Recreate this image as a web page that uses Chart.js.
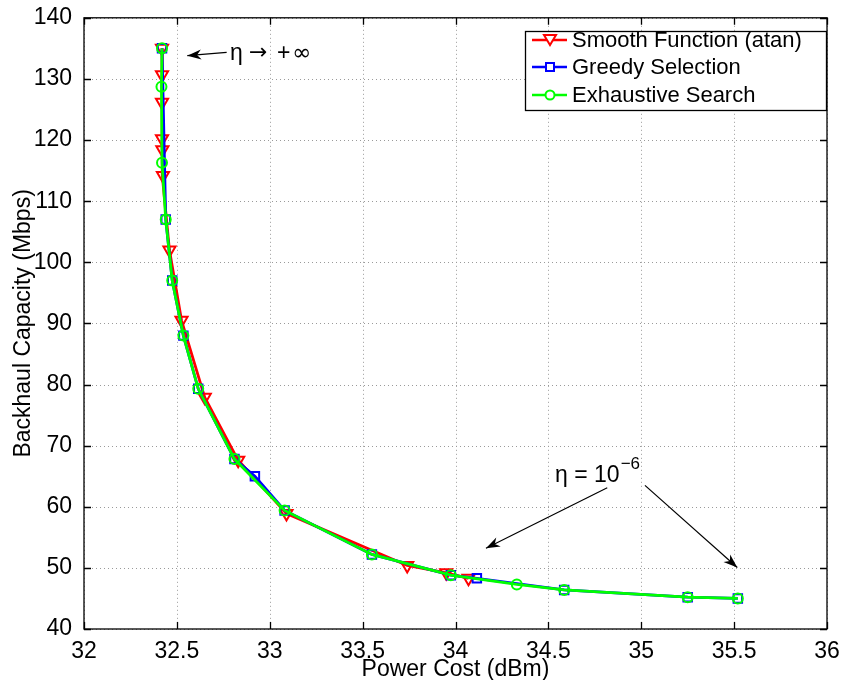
<!DOCTYPE html>
<html>
<head>
<meta charset="utf-8">
<script src="https://cdn.jsdelivr.net/npm/chart.js@4.4.0/dist/chart.umd.min.js"></script>
<style>
  html, body { margin: 0; padding: 0; background: #fff; }
  #wrap { width: 847px; height: 680px; }
</style>
</head>
<body>
<div id="wrap"><canvas id="chart" width="847" height="680"></canvas></div>
<script>
// values
const smoothX = [32.42, 32.42, 32.42, 32.42, 32.422, 32.425, 32.46, 32.525, 32.65, 32.83, 33.09, 33.74, 33.95, 34.07];
const smoothY = [135, 130.7, 126.2, 120.2, 118.4, 114.2, 102, 90.5, 77.9, 67.6, 58.9, 50.4, 49.2, 48.3];

const greedyX = [32.42, 32.44, 32.475, 32.535, 32.615, 32.81, 32.92, 33.08, 33.55, 33.975, 34.115, 34.585, 35.25, 35.52];
const greedyY = [135, 107, 97, 88, 79.3, 67.8, 65, 59.4, 52.2, 48.8, 48.3, 46.4, 45.2, 45.0];

const exhaustX = [32.42, 32.417, 32.42, 32.44, 32.475, 32.535, 32.615, 32.81, 33.08, 33.55, 33.975, 34.33, 34.585, 35.25, 35.52];
const exhaustY = [135, 128.7, 116.3, 107, 97, 88, 79.3, 67.8, 59.4, 52.2, 48.8, 47.3, 46.4, 45.2, 45.0];

const xTicks = [32, 32.5, 33, 33.5, 34, 34.5, 35, 35.5, 36];
const yTicks = [40, 50, 60, 70, 80, 90, 100, 110, 120, 130, 140];

const seriesNames = ["Smooth Function (atan)", "Greedy Selection", "Exhaustive Search"];
const xTitle = "Power Cost (dBm)";
const yTitle = "Backhaul Capacity (Mbps)";

function pts(xs, ys) {
    return xs.map((x, i) => ({ x: x, y: ys[i] }));
}

const FONT = "Liberation Sans, Arial, Helvetica, sans-serif";

// grid, frame, inner ticks, titles, notes and legend, MATLAB style
const matlabBox = {
    id: 'matlabBox',
    beforeDatasetsDraw(chart) {
        const ctx = chart.ctx;
        const a = chart.chartArea;
        const xs = chart.scales.x, ys = chart.scales.y;
        ctx.save();
        ctx.strokeStyle = '#9a9a9a';
        ctx.lineWidth = 1;
        ctx.setLineDash([1, 3]);
        xTicks.forEach(v => {
            const px = Math.round(xs.getPixelForValue(v)) + 0.5;
            ctx.beginPath(); ctx.moveTo(px, a.top); ctx.lineTo(px, a.bottom); ctx.stroke();
        });
        yTicks.forEach(v => {
            const py = Math.round(ys.getPixelForValue(v)) + 0.5;
            ctx.beginPath(); ctx.moveTo(a.left, py); ctx.lineTo(a.right, py); ctx.stroke();
        });
        ctx.restore();
    },
    afterDatasetsDraw(chart) {
        const ctx = chart.ctx;
        const a = chart.chartArea;
        const xs = chart.scales.x, ys = chart.scales.y;
        ctx.save();
        ctx.strokeStyle = '#000';
        ctx.lineWidth = 1.3;
        ctx.setLineDash([]);
        ctx.strokeRect(a.left, a.top, a.right - a.left, a.bottom - a.top);
        const tl = 7;
        xTicks.forEach(v => {
            const px = Math.round(xs.getPixelForValue(v)) + 0.5;
            ctx.beginPath();
            ctx.moveTo(px, a.bottom); ctx.lineTo(px, a.bottom - tl);
            ctx.moveTo(px, a.top); ctx.lineTo(px, a.top + tl);
            ctx.stroke();
        });
        yTicks.forEach(v => {
            const py = Math.round(ys.getPixelForValue(v)) + 0.5;
            ctx.beginPath();
            ctx.moveTo(a.left, py); ctx.lineTo(a.left + tl, py);
            ctx.moveTo(a.right, py); ctx.lineTo(a.right - tl, py);
            ctx.stroke();
        });

        // axis titles
        ctx.fillStyle = '#000';
        ctx.font = '23px ' + FONT;
        ctx.textAlign = 'center';
        ctx.textBaseline = 'alphabetic';
        ctx.fillText(xTitle, (a.left + a.right) / 2, 676);
        ctx.save();
        ctx.translate(30, (a.top + a.bottom) / 2);
        ctx.rotate(-Math.PI / 2);
        ctx.fillText(yTitle, 0, 0);
        ctx.restore();

        // annotations
        function arrow(x1, y1, x2, y2) {
            const p1x = xs.getPixelForValue(x1), p1y = ys.getPixelForValue(y1);
            const p2x = xs.getPixelForValue(x2), p2y = ys.getPixelForValue(y2);
            const ang = Math.atan2(p2y - p1y, p2x - p1x);
            ctx.strokeStyle = '#000';
            ctx.fillStyle = '#000';
            ctx.lineWidth = 1.2;
            ctx.beginPath(); ctx.moveTo(p1x, p1y); ctx.lineTo(p2x, p2y); ctx.stroke();
            const L = 14, W = 5;
            ctx.beginPath();
            ctx.moveTo(p2x, p2y);
            ctx.lineTo(p2x - L * Math.cos(ang) + W * Math.sin(ang), p2y - L * Math.sin(ang) - W * Math.cos(ang));
            ctx.lineTo(p2x - L * 0.7 * Math.cos(ang), p2y - L * 0.7 * Math.sin(ang));
            ctx.lineTo(p2x - L * Math.cos(ang) - W * Math.sin(ang), p2y - L * Math.sin(ang) + W * Math.cos(ang));
            ctx.closePath();
            ctx.fill();
        }
        arrow(32.768, 134.34, 32.556, 133.8);
        arrow(34.817, 63.1, 34.164, 53.2);
        arrow(35.02, 63.5, 35.517, 50.07);

        ctx.fillStyle = '#000';
        ctx.textBaseline = 'alphabetic';
        ctx.textAlign = 'left';
        ctx.font = '23px ' + FONT;
        const ax = xs.getPixelForValue(32.786), ay = ys.getPixelForValue(133.15);
        ctx.fillText('\u03B7', ax, ay);
        ctx.font = '22px DejaVu Sans';
        ctx.fillText('\u2192', ax + 19, ay - 1);
        ctx.font = '23px ' + FONT;
        ctx.fillText('+', ax + 47, ay);
        ctx.font = '23px DejaVu Sans';
        ctx.fillText('\u221E', ax + 62, ay);
        ctx.font = '23px ' + FONT;
        const tx = xs.getPixelForValue(34.536), ty = ys.getPixelForValue(64.0);
        const main = '\u03B7 = 10';
        ctx.fillText(main, tx, ty);
        const w = ctx.measureText(main).width;
        ctx.font = '17px ' + FONT;
        ctx.fillText('\u22126', tx + w + 1, ty - 13);

        // legend
        const lx = 525, ly = 31, lw = 301, lh = 79;
        ctx.fillStyle = '#fff';
        ctx.fillRect(lx, ly, lw, lh);
        ctx.strokeStyle = '#000';
        ctx.lineWidth = 1.3;
        ctx.strokeRect(lx + 0.5, ly + 0.5, lw, lh);
        const rows = [40, 67, 95];
        chart.data.datasets.forEach((ds, i) => {
            const yy = rows[i];
            ctx.strokeStyle = ds.borderColor;
            ctx.lineWidth = 2.5;
            ctx.beginPath(); ctx.moveTo(532, yy); ctx.lineTo(567, yy); ctx.stroke();
            ctx.lineWidth = 2;
            ctx.beginPath();
            if (i === 0) {
                ctx.moveTo(544, yy - 5); ctx.lineTo(556, yy - 5); ctx.lineTo(550, yy + 5); ctx.closePath();
                ctx.fillStyle = '#fff'; ctx.fill(); ctx.stroke();
            } else if (i === 1) {
                ctx.rect(546, yy - 4, 8, 8);
                ctx.fillStyle = '#fff'; ctx.fill(); ctx.stroke();
            } else {
                ctx.arc(550, yy, 4.5, 0, Math.PI * 2);
                ctx.fillStyle = '#fff'; ctx.fill(); ctx.stroke();
            }
            ctx.fillStyle = '#000';
            ctx.font = '22px ' + FONT;
            ctx.textBaseline = 'middle';
            ctx.fillText(ds.label, 572, yy + 1);
        });
        ctx.restore();
    }
};

const ctx = document.getElementById('chart').getContext('2d');
new Chart(ctx, {
    type: 'scatter',
    data: {
        datasets: [
            {
                label: seriesNames[0],
                data: pts(smoothX, smoothY),
                showLine: true,
                borderColor: '#ff0000',
                backgroundColor: 'rgba(0,0,0,0)',
                borderWidth: 2.8,
                pointStyle: 'triangle',
                rotation: 180,
                pointRadius: 7,
                pointBorderWidth: 2,
                order: 3
            },
            {
                label: seriesNames[1],
                data: pts(greedyX, greedyY),
                showLine: true,
                borderColor: '#0000ff',
                backgroundColor: 'rgba(0,0,0,0)',
                borderWidth: 2.8,
                pointStyle: 'rect',
                pointRadius: 6,
                pointBorderWidth: 2,
                order: 2
            },
            {
                label: seriesNames[2],
                data: pts(exhaustX, exhaustY),
                showLine: true,
                borderColor: '#00ff00',
                backgroundColor: 'rgba(0,0,0,0)',
                borderWidth: 2.8,
                pointStyle: 'circle',
                pointRadius: 5,
                pointBorderWidth: 2,
                order: 1
            }
        ]
    },
    options: {
        responsive: false,
        animation: false,
        layout: { padding: { top: 16, right: 20, left: 0, bottom: 0 } },
        plugins: {
            legend: { display: false },
            tooltip: { enabled: false }
        },
        scales: {
            x: {
                type: 'linear',
                min: 32,
                max: 36,
                afterBuildTicks: s => { s.ticks = xTicks.map(v => ({ value: v })); },
                afterFit: s => { s.height = 51; },
                grid: { display: false },
                border: { display: false },
                ticks: {
                    color: '#000',
                    padding: 1,
                    font: { size: 23, family: FONT },
                    callback: v => String(v)
                }
            },
            y: {
                type: 'linear',
                min: 40,
                max: 140,
                afterBuildTicks: s => { s.ticks = yTicks.map(v => ({ value: v })); },
                afterFit: s => { s.width = 84; },
                grid: { display: false },
                border: { display: false },
                ticks: {
                    color: '#000',
                    padding: 4,
                    font: { size: 23, family: FONT },
                    callback: v => String(v)
                }
            }
        }
    },
    plugins: [matlabBox]
});
</script>
</body>
</html>
